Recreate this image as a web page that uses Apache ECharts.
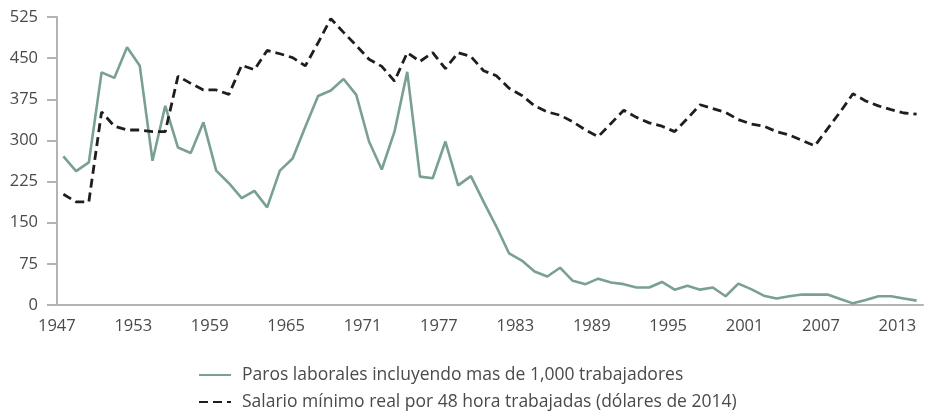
<!DOCTYPE html>
<html>
<head>
<meta charset="utf-8">
<script src="https://cdn.jsdelivr.net/npm/echarts@6/dist/echarts.min.js"></script>
<style>
  html, body { margin: 0; padding: 0; background: #fff; }
  #chart { width: 927px; height: 415px; }
</style>
</head>
<body>
<div id="chart"></div>
<script>
// años 1947 - 2014
const years = []
for (let y = 1947; y <= 2014; y++) years.push(String(y))

const parosName = 'Paros laborales incluyendo mas de 1,000 trabajadores'
const salarioName = 'Salario mínimo real por 48 hora trabajadas (dólares de 2014)'

const paros = [
  271, 244, 260, 424, 414, 470, 436, 263, 363, 287,
  277, 333, 245, 222, 195, 208, 178, 245, 267, 325,
  381, 391, 412, 383, 298, 247, 316, 425, 234, 231,
  298, 218, 235, 188, 143, 94, 81, 61, 52, 68,
  44, 38, 48, 41, 38, 32, 32, 42, 28, 35,
  28, 32, 16, 39, 29, 17, 12, 16, 19, 19,
  19, 11, 3, 9, 16, 16, 12, 8
]

const salario = [
  202, 188, 188, 352, 326, 319, 319, 316, 316, 417,
  404, 392, 392, 384, 437, 429, 464, 458, 451, 436,
  478, 522, 497, 473, 448, 435, 408, 460, 444, 460,
  431, 460, 453, 427, 418, 395, 382, 363, 352, 346,
  334, 319, 307, 331, 355, 342, 332, 326, 316, 340,
  365, 358, 351, 338, 330, 326, 316, 310, 300, 290,
  321, 352, 385, 372, 363, 356, 350, 348
]

const axisGrey = '#b3b3b7'
const labelColor = '#4a4a4a'
const font = '"Open Sans", "DejaVu Sans", sans-serif'

function legendRow(name, top) {
  return {
    orient: 'vertical',
    left: 198,
    top: top,
    padding: 0,
    itemWidth: 32,
    itemHeight: 14,
    itemStyle: { opacity: 0 },
    textStyle: { fontFamily: font, fontSize: 17.5, color: labelColor, padding: [0, 0, 0, 6] },
    data: [name]
  }
}

const chart = echarts.init(document.getElementById('chart'))
chart.setOption({
  animation: false,
  grid: { left: 57, right: 4, top: 17, bottom: 110 },
  legend: [legendRow(parosName, 366), legendRow(salarioName, 393)],
  xAxis: {
    type: 'category',
    data: years,
    boundaryGap: true,
    axisLine: { lineStyle: { color: axisGrey, width: 2 } },
    axisTick: { show: false },
    axisLabel: {
      interval: 5,
      margin: 13,
      padding: [0, 13, 0, 0],
      fontFamily: font,
      fontSize: 16.5,
      color: labelColor
    },
    splitLine: { show: false }
  },
  yAxis: {
    type: 'value',
    min: 0,
    max: 525,
    interval: 75,
    axisLine: { show: true, lineStyle: { color: axisGrey, width: 2 } },
    axisTick: { show: true, length: 10, lineStyle: { color: axisGrey, width: 2 } },
    axisLabel: {
      margin: 19,
      fontFamily: font,
      fontSize: 16.5,
      color: labelColor
    },
    splitLine: { show: false }
  },
  series: [
    {
      name: parosName,
      type: 'line',
      data: paros,
      symbol: 'none',
      lineStyle: { color: '#7a9f93', width: 2.6 },
      itemStyle: { color: '#7a9f93' }
    },
    {
      name: salarioName,
      type: 'line',
      data: salario,
      symbol: 'none',
      lineStyle: { color: '#1e1e1e', width: 2.8, type: [9, 5] },
      itemStyle: { color: '#1e1e1e' }
    }
  ]
})
</script>
</body>
</html>
